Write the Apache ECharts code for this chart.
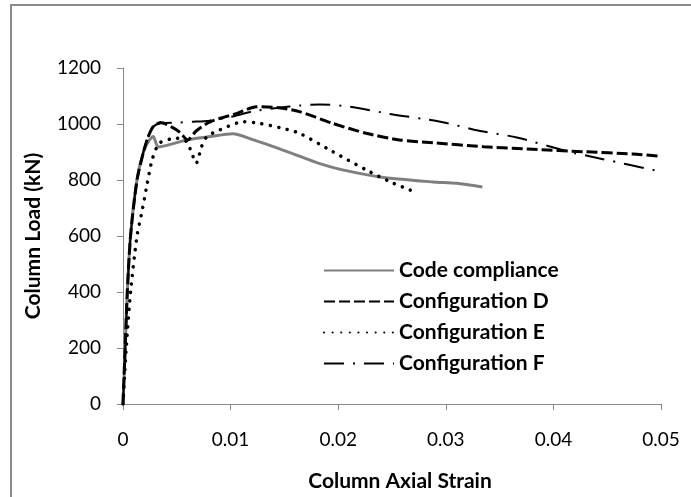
<!DOCTYPE html>
<html>
<head>
<meta charset="utf-8">
<script src="https://cdn.jsdelivr.net/npm/echarts@6/dist/echarts.min.js"></script>
<style>
html,body{margin:0;padding:0;background:#fff;}
#main{width:691px;height:497px;}
</style>
</head>
<body>
<div id="main"></div>
<script>
// Series data: [axial strain, load kN]
const seriesNames = ['Code compliance', 'Configuration D', 'Configuration E', 'Configuration F'];
const codeCompliance = [[0,0],[0.0002,200],[0.0004,400],[0.0007,600],[0.0013,800],[0.0019,900],[0.0024,940],[0.0028,955],[0.0033,918],[0.0059,943],[0.0081,955],[0.0102,965],[0.012,945],[0.0145,912],[0.0164,885],[0.018,862],[0.0202,838],[0.0239,811],[0.0288,793],[0.031,788],[0.0334,775]];
const configD = [[0,0],[0.0002,200],[0.0004,400],[0.0007,600],[0.0013,800],[0.0019,900],[0.0023,950],[0.0028,990],[0.0035,1005],[0.0045,990],[0.0053,970],[0.006,943],[0.0068,975],[0.0081,1008],[0.0106,1038],[0.0124,1062],[0.0145,1058],[0.0164,1044],[0.0195,1002],[0.0226,967],[0.0257,943],[0.0288,933],[0.0335,919],[0.0381,910],[0.0428,901],[0.0474,893],[0.05,885]];
const configE = [[0,0],[0.0003,200],[0.0007,400],[0.0013,600],[0.0017,675],[0.0022,776],[0.0027,871],[0.0034,932],[0.005,949],[0.0059,937],[0.0064,895],[0.0068,860],[0.0073,919],[0.0078,955],[0.009,979],[0.0112,1008],[0.0127,1002],[0.0149,984],[0.0164,967],[0.0195,901],[0.0226,836],[0.0248,794],[0.0267,764]];
const configF = [[0,0],[0.0002,200],[0.0004,400],[0.0007,600],[0.0013,800],[0.0019,900],[0.0023,950],[0.0028,990],[0.0035,1003],[0.005,1005],[0.0065,1008],[0.008,1012],[0.01,1025],[0.012,1045],[0.0145,1058],[0.0164,1066],[0.0183,1070],[0.0211,1062],[0.0248,1036],[0.0295,1008],[0.0332,975],[0.0366,952],[0.0412,903],[0.0443,877],[0.05,830]];

const xTicks = {min: 0, max: 0.05, interval: 0.01};
const yTicks = {min: 0, max: 1200, interval: 200};

const chart = echarts.init(document.getElementById('main'), null, {renderer: 'canvas'});
const axisGray = '#888888';
const font = 'Lato, "Open Sans", sans-serif';

function line(name, data, color, width, type, cap) {
  return {
    name: name, type: 'line', data: data, showSymbol: false, symbol: 'none',
    smooth: 0.25, animation: false,
    lineStyle: {color: color, width: width, type: type, cap: cap || 'butt'},
    itemStyle: {color: color}
  };
}

chart.setOption({
  animation: false,
  backgroundColor: '#fff',
  grid: {left: 123, right: 30, top: 68, bottom: 93, containLabel: false},
  xAxis: {
    type: 'value', min: xTicks.min, max: xTicks.max, interval: xTicks.interval,
    axisLine: {show: true, onZero: false, lineStyle: {color: axisGray, width: 1}},
    axisTick: {show: true, inside: false, length: 6, lineStyle: {color: axisGray}},
    splitLine: {show: false},
    axisLabel: {margin: 26, color: '#000', fontFamily: font, fontSize: 19,
      formatter: v => (v === 0 ? '0' : v.toFixed(2))}
  },
  yAxis: {
    type: 'value', min: yTicks.min, max: yTicks.max, interval: yTicks.interval,
    axisLine: {show: true, lineStyle: {color: axisGray, width: 1}},
    axisTick: {show: true, inside: false, length: 6, lineStyle: {color: axisGray}},
    splitLine: {show: false},
    axisLabel: {margin: 22, color: '#000', fontFamily: font, fontSize: 19,
      formatter: v => String(v)}
  },
  legend: {
    orient: 'vertical', left: 318, top: 255, itemWidth: 70, itemHeight: 14, itemGap: 10,
    data: seriesNames,
    itemStyle: {opacity: 0},
    textStyle: {fontFamily: font, fontWeight: 'bold', fontSize: 21, color: '#000'}
  },
  graphic: [
    {type: 'rect', shape: {x: 11, y: 5, width: 700, height: 600}, silent: true,
     style: {fill: null, stroke: '#8a8a8a', lineWidth: 2}, z: -1},
    {type: 'text', x: 400, y: 481, silent: true,
     style: {text: 'Column Axial Strain', fontFamily: font, fontWeight: 'bold', fontSize: 21,
       fill: '#000', textAlign: 'center', textVerticalAlign: 'middle'}},
    {type: 'text', x: 33, y: 236, rotation: Math.PI / 2, silent: true,
     style: {text: 'Column Load (kN)', fontFamily: font, fontWeight: 'bold', fontSize: 21,
       fill: '#000', textAlign: 'center', textVerticalAlign: 'middle'}}
  ],
  series: [
    line(seriesNames[0], codeCompliance, '#7f7f7f', 3, 'solid'),
    line(seriesNames[1], configD, '#000', 3, [11, 4]),
    line(seriesNames[2], configE, '#000', 3.5, [0.1, 8.5], 'round'),
    line(seriesNames[3], configF, '#000', 2, [20, 9, 2, 9])
  ]
});
</script>
</body>
</html>
